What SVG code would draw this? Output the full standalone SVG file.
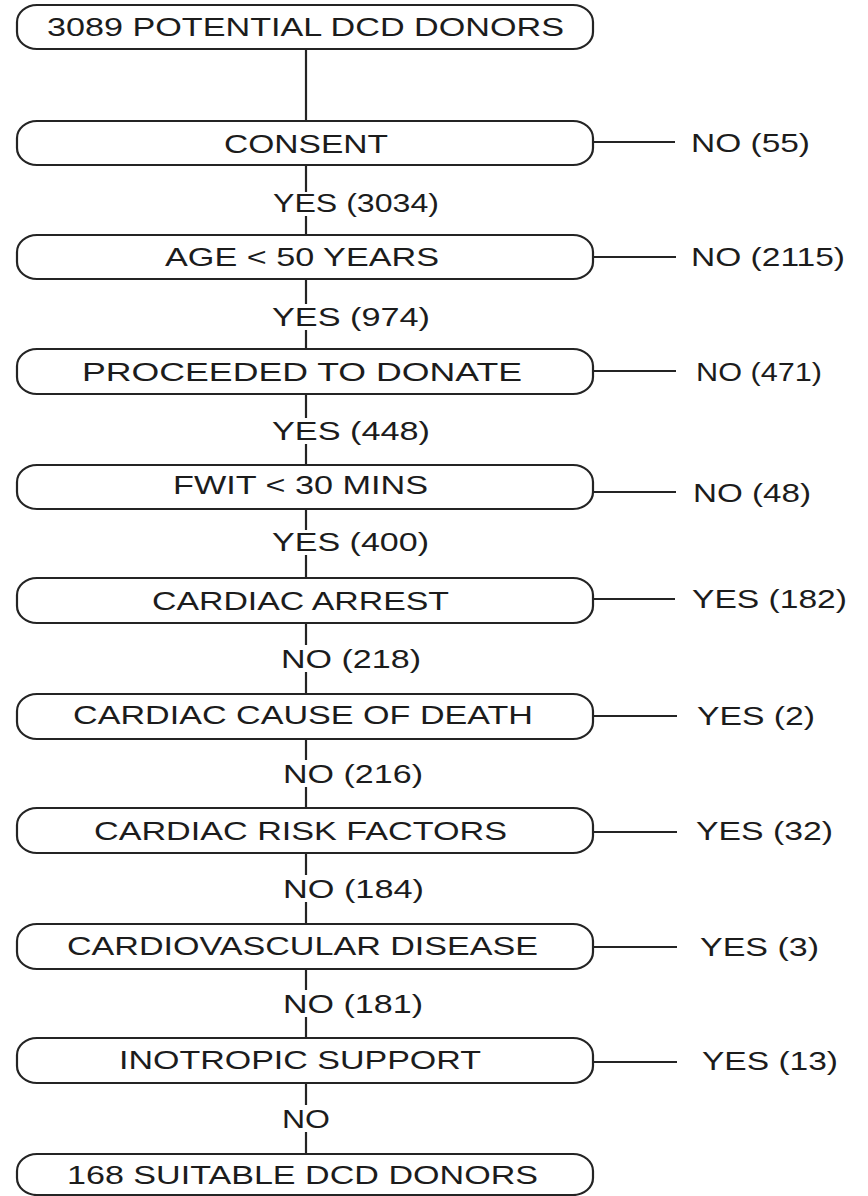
<svg xmlns="http://www.w3.org/2000/svg" width="868" height="1196" viewBox="0 0 868 1196">
  <style>
    .box { fill: #ffffff; stroke: #242424; stroke-width: 2.2; }
    .edge { stroke: #242424; stroke-width: 2.2; fill: none; }
    text { font-family: "Liberation Sans", Arial, sans-serif; font-size: 25px; fill: #1c1c1c; }
  </style>
  <rect width="868" height="1196" fill="#ffffff"/>

  <!-- connectors -->
  <g id="connectors" class="edge">
    <!-- main trunk -->
    <line x1="306" y1="49" x2="306" y2="121"/>
    <line x1="306" y1="165" x2="306" y2="192"/>
    <line x1="306" y1="216" x2="306" y2="235"/>
    <line x1="306" y1="279" x2="306" y2="304"/>
    <line x1="306" y1="330" x2="306" y2="349"/>
    <line x1="306" y1="394" x2="306" y2="418"/>
    <line x1="306" y1="444" x2="306" y2="465"/>
    <line x1="306" y1="509" x2="306" y2="530"/>
    <line x1="306" y1="555" x2="306" y2="578"/>
    <line x1="306" y1="623" x2="306" y2="645"/>
    <line x1="306" y1="672" x2="306" y2="694"/>
    <line x1="306" y1="739" x2="306" y2="760"/>
    <line x1="306" y1="787" x2="306" y2="808"/>
    <line x1="306" y1="853" x2="306" y2="875"/>
    <line x1="306" y1="902" x2="306" y2="924"/>
    <line x1="306" y1="969" x2="306" y2="990"/>
    <line x1="306" y1="1017" x2="306" y2="1038"/>
    <line x1="306" y1="1083" x2="306" y2="1105"/>
    <line x1="306" y1="1132" x2="306" y2="1154"/>
    <!-- exits to the right -->
    <line x1="593" y1="142" x2="675" y2="142"/>
    <line x1="593" y1="257" x2="676" y2="257"/>
    <line x1="593" y1="371" x2="676" y2="371"/>
    <line x1="593" y1="492" x2="676" y2="492"/>
    <line x1="593" y1="599" x2="675" y2="599"/>
    <line x1="593" y1="716" x2="677" y2="716"/>
    <line x1="593" y1="832" x2="677" y2="832"/>
    <line x1="593" y1="947" x2="677" y2="947"/>
    <line x1="593" y1="1062" x2="677" y2="1062"/>
  </g>

  <!-- branch labels on the trunk -->
  <g id="trunk-labels">
    <text x="273" y="212" textLength="166" lengthAdjust="spacingAndGlyphs">YES (3034)</text>
    <text x="272" y="326" textLength="158" lengthAdjust="spacingAndGlyphs">YES (974)</text>
    <text x="272" y="440" textLength="158" lengthAdjust="spacingAndGlyphs">YES (448)</text>
    <text x="272" y="551" textLength="157" lengthAdjust="spacingAndGlyphs">YES (400)</text>
    <text x="281" y="668" textLength="140" lengthAdjust="spacingAndGlyphs">NO (218)</text>
    <text x="283" y="783" textLength="140" lengthAdjust="spacingAndGlyphs">NO (216)</text>
    <text x="283" y="898" textLength="141" lengthAdjust="spacingAndGlyphs">NO (184)</text>
    <text x="283" y="1013" textLength="140" lengthAdjust="spacingAndGlyphs">NO (181)</text>
    <text x="282" y="1128" textLength="48" lengthAdjust="spacingAndGlyphs">NO</text>
  </g>

  <!-- exclusion labels -->
  <g id="side-labels">
    <text x="691" y="151.5" textLength="119" lengthAdjust="spacingAndGlyphs">NO (55)</text>
    <text x="691" y="266" textLength="154" lengthAdjust="spacingAndGlyphs">NO (2115)</text>
    <text x="696" y="380.5" textLength="126" lengthAdjust="spacingAndGlyphs">NO (471)</text>
    <text x="693" y="502" textLength="118" lengthAdjust="spacingAndGlyphs">NO (48)</text>
    <text x="692" y="608" textLength="155" lengthAdjust="spacingAndGlyphs">YES (182)</text>
    <text x="697" y="725" textLength="118" lengthAdjust="spacingAndGlyphs">YES (2)</text>
    <text x="696" y="840" textLength="137" lengthAdjust="spacingAndGlyphs">YES (32)</text>
    <text x="700" y="956" textLength="119" lengthAdjust="spacingAndGlyphs">YES (3)</text>
    <text x="702" y="1070" textLength="136" lengthAdjust="spacingAndGlyphs">YES (13)</text>
  </g>

  <!-- nodes -->
  <g id="n-potential">
    <rect class="box" x="17" y="5" width="576" height="44" rx="20" ry="17"/>
    <text x="47" y="35.5" textLength="517" lengthAdjust="spacingAndGlyphs">3089 POTENTIAL DCD DONORS</text>
  </g>
  <g id="n-consent">
    <rect class="box" x="17" y="121" width="576" height="44" rx="20" ry="17"/>
    <text x="224" y="152.5" textLength="164" lengthAdjust="spacingAndGlyphs">CONSENT</text>
  </g>
  <g id="n-age">
    <rect class="box" x="17" y="235" width="576" height="44" rx="20" ry="17"/>
    <text x="165" y="265.5" textLength="274" lengthAdjust="spacingAndGlyphs">AGE &lt; 50 YEARS</text>
  </g>
  <g id="n-proceeded">
    <rect class="box" x="17" y="349" width="576" height="45" rx="20" ry="17"/>
    <text x="82" y="381" textLength="440" lengthAdjust="spacingAndGlyphs">PROCEEDED TO DONATE</text>
  </g>
  <g id="n-fwit">
    <rect class="box" x="17" y="465" width="576" height="44" rx="20" ry="17"/>
    <text x="173" y="493.5" textLength="255" lengthAdjust="spacingAndGlyphs">FWIT &lt; 30 MINS</text>
  </g>
  <g id="n-arrest">
    <rect class="box" x="17" y="578" width="576" height="45" rx="20" ry="17"/>
    <text x="152" y="609.5" textLength="297" lengthAdjust="spacingAndGlyphs">CARDIAC ARREST</text>
  </g>
  <g id="n-cause">
    <rect class="box" x="17" y="694" width="576" height="45" rx="20" ry="17"/>
    <text x="73" y="724" textLength="460" lengthAdjust="spacingAndGlyphs">CARDIAC CAUSE OF DEATH</text>
  </g>
  <g id="n-risk">
    <rect class="box" x="17" y="808" width="576" height="45" rx="20" ry="17"/>
    <text x="94" y="840" textLength="413" lengthAdjust="spacingAndGlyphs">CARDIAC RISK FACTORS</text>
  </g>
  <g id="n-cvd">
    <rect class="box" x="17" y="924" width="576" height="45" rx="20" ry="17"/>
    <text x="67" y="955" textLength="471" lengthAdjust="spacingAndGlyphs">CARDIOVASCULAR DISEASE</text>
  </g>
  <g id="n-inotropic">
    <rect class="box" x="17" y="1038" width="576" height="45" rx="20" ry="17"/>
    <text x="119" y="1069" textLength="362" lengthAdjust="spacingAndGlyphs">INOTROPIC SUPPORT</text>
  </g>
  <g id="n-suitable">
    <rect class="box" x="17" y="1154" width="576" height="41" rx="20" ry="17"/>
    <text x="67" y="1184" textLength="471" lengthAdjust="spacingAndGlyphs">168 SUITABLE DCD DONORS</text>
  </g>
</svg>
